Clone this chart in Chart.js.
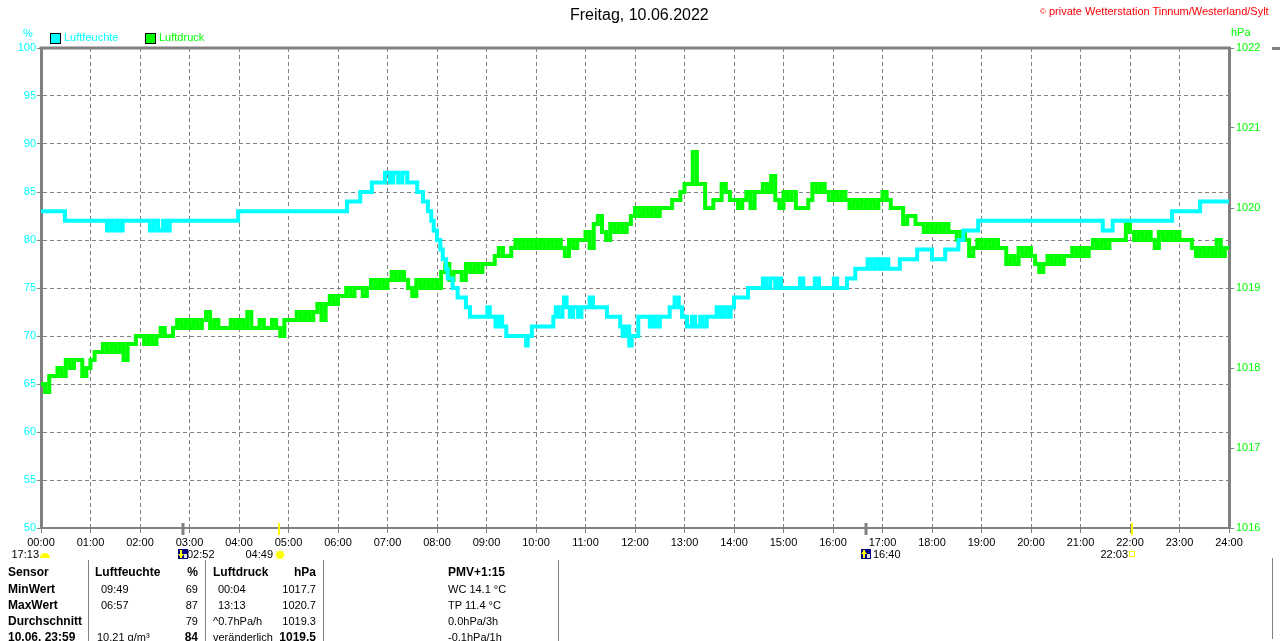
<!DOCTYPE html>
<html>
<head>
<meta charset="utf-8">
<script src="https://cdn.jsdelivr.net/npm/chart.js@4.4.1/dist/chart.umd.min.js"></script>
<style>
  body { margin: 0; width: 1280px; height: 641px; overflow: hidden; background: #fff; position: relative;
         font-family: "Liberation Sans", Arial, sans-serif; }
  #wrap { position: absolute; left: 0; top: 0; width: 1280px; height: 560px; }
  .t { position: absolute; white-space: nowrap; font-size: 11px; line-height: 13px; color: #000; }
  .b { font-weight: bold; font-size: 12px; }
  .vl { position: absolute; top: 560px; height: 81px; width: 1px; background: #808080; }
  .box { position: absolute; width: 9px; height: 9px; border: 1px solid #000; }
</style>
</head>
<body>
<div id="wrap"><canvas id="wetterChart"></canvas></div>

<!-- Kopf -->
<div class="t" style="left:570px; top:6px; font-size:16px; line-height:18px;">Freitag, 10.06.2022</div>
<div class="t" style="left:1040px; top:5px; color:#ff0000;"><span style="font-size:8px; vertical-align:top;">©</span> private Wetterstation Tinnum/Westerland/Sylt</div>
<div class="t" style="left:23px; top:27px; color:#00ffff;">%</div>
<div class="t" style="left:1231px; top:26px; color:#00ff00;">hPa</div>
<div class="box" style="left:50px; top:33px; background:#00ffff;"></div>
<div class="t" style="left:64px; top:31px; color:#00ffff;">Luftfeuchte</div>
<div class="box" style="left:145px; top:33px; background:#00ff00;"></div>
<div class="t" style="left:159px; top:31px; color:#00ff00;">Luftdruck</div>

<!-- Sonne / Mond -->
<div class="t" style="right:1241px; top:548px;">17:13</div>
<div class="t" style="left:187px; top:548px;">02:52</div>
<div class="t" style="right:1007px; top:548px;">04:49</div>
<div class="t" style="left:873px; top:548px;">16:40</div>
<div class="t" style="right:152px; top:548px;">22:03</div>

<!-- Tabelle -->
<div class="vl" style="left:88px;"></div>
<div class="vl" style="left:205px;"></div>
<div class="vl" style="left:323px;"></div>
<div class="vl" style="left:558px;"></div>
<div class="vl" style="left:1272px; top:558px;"></div>
<div style="position:absolute; left:1272px; top:47px; width:8px; height:3px; background:#808080;"></div>

<div class="t b" style="left:8px; top:566px;">Sensor</div>
<div class="t b" style="left:95px; top:566px;">Luftfeuchte</div>
<div class="t b" style="right:1082px; top:566px;">%</div>
<div class="t b" style="left:213px; top:566px;">Luftdruck</div>
<div class="t b" style="right:964px; top:566px;">hPa</div>
<div class="t b" style="left:448px; top:566px;">PMV+1:15</div>

<div class="t b" style="left:8px; top:583px;">MinWert</div>
<div class="t" style="left:101px; top:583px;">09:49</div>
<div class="t" style="right:1082px; top:583px;">69</div>
<div class="t" style="left:218px; top:583px;">00:04</div>
<div class="t" style="right:964px; top:583px;">1017.7</div>
<div class="t" style="left:448px; top:583px;">WC 14.1 °C</div>

<div class="t b" style="left:8px; top:599px;">MaxWert</div>
<div class="t" style="left:101px; top:599px;">06:57</div>
<div class="t" style="right:1082px; top:599px;">87</div>
<div class="t" style="left:218px; top:599px;">13:13</div>
<div class="t" style="right:964px; top:599px;">1020.7</div>
<div class="t" style="left:448px; top:599px;">TP 11.4 °C</div>

<div class="t b" style="left:8px; top:615px;">Durchschnitt</div>
<div class="t" style="right:1082px; top:615px;">79</div>
<div class="t" style="left:213px; top:615px;">^0.7hPa/h</div>
<div class="t" style="right:964px; top:615px;">1019.3</div>
<div class="t" style="left:448px; top:615px;">0.0hPa/3h</div>

<div class="t b" style="left:8px; top:631px;">10.06. 23:59</div>
<div class="t" style="left:97px; top:631px;">10.21 g/m³</div>
<div class="t b" style="right:1082px; top:631px;">84</div>
<div class="t" style="left:213px; top:631px;">veränderlich</div>
<div class="t b" style="right:964px; top:631px;">1019.5</div>
<div class="t" style="left:448px; top:631px;">-0.1hPa/1h</div>

<script>
// Stundenachse
const xTickLabels = ['00:00', '01:00', '02:00', '03:00', '04:00', '05:00', '06:00', '07:00', '08:00',
  '09:00', '10:00', '11:00', '12:00', '13:00', '14:00', '15:00', '16:00', '17:00', '18:00',
  '19:00', '20:00', '21:00', '22:00', '23:00', '24:00'];

// Luftfeuchte (%), Wert gilt bis zum nächsten Zeitpunkt
const humTimes = ['00:00', '00:29', '01:20', '01:24', '01:27', '01:32', '01:36', '01:39', '02:12', '02:17',
  '02:22', '02:28', '02:32', '02:36', '03:59', '06:11', '06:27', '06:41', '06:57', '07:03',
  '07:07', '07:13', '07:18', '07:24', '07:36', '07:43', '07:49', '07:53', '07:56', '08:00',
  '08:04', '08:07', '08:11', '08:13', '08:19', '08:25', '08:35', '08:40', '09:01', '09:04',
  '09:11', '09:15', '09:19', '09:24', '09:48', '09:50', '09:55', '10:21', '10:24', '10:27',
  '10:32', '10:34', '10:37', '10:41', '10:45', '10:51', '10:55', '11:05', '11:09', '11:26',
  '11:42', '11:45', '11:49', '11:53', '11:56', '12:04', '12:18', '12:22', '12:25', '12:30',
  '12:42', '12:48', '12:53', '12:57', '13:03', '13:09', '13:13', '13:19', '13:22', '13:27',
  '13:39', '13:43', '13:48', '13:53', '13:56', '14:00', '14:17', '14:35', '14:39', '14:44',
  '14:50', '14:53', '14:57', '15:20', '15:24', '15:38', '15:43', '16:01', '16:05', '16:17',
  '16:27', '16:42', '16:47', '16:52', '16:57', '17:02', '17:07', '17:21', '17:42', '18:00',
  '18:16', '18:32', '18:38', '18:56', '21:27', '21:39', '22:51', '23:25', '24:00'];
const humValues = [83, 82, 81, 82, 81, 82, 81, 82, 81, 82,
  81, 82, 81, 82, 83, 84, 85, 86, 87, 86,
  87, 86, 87, 86, 85, 84, 83, 82, 81, 80,
  79, 78, 77, 76, 75, 74, 73, 72, 73, 72,
  71, 72, 71, 70, 69, 70, 71, 72, 73, 72,
  73, 74, 73, 72, 73, 72, 73, 74, 73, 72,
  71, 70, 71, 69, 70, 72, 71, 72, 71, 72,
  73, 74, 73, 72, 71, 72, 71, 72, 71, 72,
  73, 72, 73, 72, 73, 74, 75, 76, 75, 76,
  75, 76, 75, 76, 75, 76, 75, 76, 75, 76,
  77, 78, 77, 78, 77, 78, 77, 78, 79, 78,
  79, 80, 81, 82, 81, 82, 83, 84, 84];

// Luftdruck (hPa), alle 5 Minuten ab 00:00 (eine Zeile = eine Stunde)
const pressureStepMin = 5;
const pressureValues = [
  1017.8, 1017.7, 1017.9, 1017.9, 1018.0, 1017.9, 1018.1, 1018.0, 1018.1, 1018.1, 1017.9, 1018.0,
  1018.1, 1018.2, 1018.2, 1018.3, 1018.2, 1018.3, 1018.2, 1018.3, 1018.1, 1018.3, 1018.3, 1018.4,
  1018.4, 1018.3, 1018.4, 1018.3, 1018.4, 1018.5, 1018.4, 1018.4, 1018.5, 1018.6, 1018.5, 1018.6,
  1018.5, 1018.6, 1018.5, 1018.6, 1018.7, 1018.5, 1018.6, 1018.5, 1018.5, 1018.5, 1018.6, 1018.5,
  1018.6, 1018.5, 1018.7, 1018.5, 1018.5, 1018.6, 1018.5, 1018.5, 1018.6, 1018.5, 1018.4, 1018.6,
  1018.6, 1018.6, 1018.7, 1018.6, 1018.7, 1018.6, 1018.7, 1018.8, 1018.6, 1018.8, 1018.9, 1018.8,
  1018.9, 1018.9, 1019.0, 1018.9, 1019.0, 1019.0, 1018.9, 1019.0, 1019.1, 1019.0, 1019.1, 1019.0,
  1019.1, 1019.2, 1019.1, 1019.2, 1019.1, 1019.0, 1018.9, 1019.1, 1019.0, 1019.1, 1019.0, 1019.1,
  1019.0, 1019.2, 1019.3, 1019.1, 1019.2, 1019.2, 1019.1, 1019.3, 1019.2, 1019.3, 1019.2, 1019.3,
  1019.3, 1019.3, 1019.4, 1019.5, 1019.4, 1019.4, 1019.5, 1019.6, 1019.5, 1019.6, 1019.5, 1019.6,
  1019.5, 1019.6, 1019.5, 1019.6, 1019.5, 1019.6, 1019.5, 1019.4, 1019.6, 1019.5, 1019.6, 1019.6,
  1019.7, 1019.5, 1019.8, 1019.9, 1019.7, 1019.6, 1019.8, 1019.7, 1019.8, 1019.7, 1019.8, 1019.9,
  1020.0, 1019.9, 1020.0, 1019.9, 1020.0, 1019.9, 1020.0, 1020.0, 1020.0, 1020.1, 1020.1, 1020.2,
  1020.3, 1020.3, 1020.7, 1020.3, 1020.3, 1020.0, 1020.0, 1020.1, 1020.1, 1020.3, 1020.2, 1020.1,
  1020.1, 1020.0, 1020.1, 1020.2, 1020.0, 1020.2, 1020.2, 1020.3, 1020.2, 1020.4, 1020.1, 1020.0,
  1020.2, 1020.1, 1020.2, 1020.0, 1020.0, 1020.0, 1020.1, 1020.3, 1020.2, 1020.3, 1020.2, 1020.1,
  1020.2, 1020.1, 1020.2, 1020.1, 1020.0, 1020.1, 1020.0, 1020.1, 1020.0, 1020.1, 1020.0, 1020.1,
  1020.2, 1020.1, 1020.0, 1020.0, 1020.0, 1019.8, 1019.9, 1019.9, 1019.8, 1019.8, 1019.7, 1019.8,
  1019.7, 1019.8, 1019.7, 1019.8, 1019.7, 1019.7, 1019.6, 1019.7, 1019.6, 1019.4, 1019.5, 1019.6,
  1019.5, 1019.6, 1019.5, 1019.6, 1019.5, 1019.5, 1019.3, 1019.4, 1019.3, 1019.5, 1019.4, 1019.5,
  1019.4, 1019.3, 1019.2, 1019.3, 1019.4, 1019.3, 1019.4, 1019.3, 1019.4, 1019.4, 1019.5, 1019.4,
  1019.5, 1019.4, 1019.5, 1019.6, 1019.5, 1019.6, 1019.5, 1019.6, 1019.6, 1019.6, 1019.6, 1019.8,
  1019.7, 1019.6, 1019.7, 1019.6, 1019.7, 1019.6, 1019.5, 1019.7, 1019.6, 1019.7, 1019.6, 1019.7,
  1019.6, 1019.6, 1019.6, 1019.5, 1019.4, 1019.5, 1019.4, 1019.5, 1019.4, 1019.6, 1019.4, 1019.5,
  1019.5];

// Mond unter/auf, Sonne auf/unter
const moonTimes = ['02:52', '16:40'];
const sunTimes = ['04:49', '22:03'];

const toHours = t => { const [h, m] = t.split(':').map(Number); return h + m / 60; };
const humData = humTimes.map((t, i) => ({ x: toHours(t), y: humValues[i] }));
const pressureData = pressureValues.map((v, i) => ({ x: i * pressureStepMin / 60, y: v }));

const tickFont = { family: '"Liberation Sans", Arial, sans-serif', size: 11 };

// Rahmen oben und Sonne/Mond-Marken unter der Zeitachse
const markerPlugin = {
  id: 'markerPlugin',
  afterDatasetsDraw(chart) {
    const { ctx, chartArea: a, scales: { x } } = chart;
    ctx.save();
    ctx.strokeStyle = '#808080';
    ctx.lineWidth = 3;
    ctx.beginPath();
    ctx.moveTo(a.left - 1.5, a.top);
    ctx.lineTo(a.right + 1.5, a.top);
    ctx.stroke();

    moonTimes.forEach((t, i) => {
      const px = Math.round(x.getPixelForValue(toHours(t)));
      ctx.strokeStyle = '#808080';
      ctx.lineWidth = 3;
      ctx.beginPath(); ctx.moveTo(px, a.bottom - 5); ctx.lineTo(px, a.bottom + 7); ctx.stroke();
      // Mond-Symbol
      ctx.fillStyle = '#000080';
      ctx.fillRect(px - 5, 549, 10, 10);
      ctx.fillStyle = '#e0e0e0';
      ctx.fillRect(px + 1, 554, 3, 4);
      ctx.strokeStyle = '#ffff00';
      ctx.fillStyle = '#ffff00';
      ctx.lineWidth = 2;
      ctx.beginPath(); ctx.moveTo(px - 2, 550); ctx.lineTo(px - 2, 558); ctx.stroke();
      ctx.beginPath();
      if (i === 0) { ctx.moveTo(px - 5, 554); ctx.lineTo(px + 1, 554); ctx.lineTo(px - 2, 558); }
      else { ctx.moveTo(px - 5, 554); ctx.lineTo(px + 1, 554); ctx.lineTo(px - 2, 550); }
      ctx.fill();
    });

    sunTimes.forEach((t, i) => {
      const px = Math.round(x.getPixelForValue(toHours(t)));
      ctx.strokeStyle = '#ffff00';
      ctx.lineWidth = 2;
      ctx.beginPath(); ctx.moveTo(px, a.bottom - 5); ctx.lineTo(px, a.bottom + 7); ctx.stroke();
      if (i === 0) {
        ctx.strokeStyle = '#ffff99';
        ctx.lineWidth = 1;
        for (let k = 0; k < 8; k++) {
          const ang = k * Math.PI / 4;
          ctx.beginPath();
          ctx.moveTo(px + 1 + Math.cos(ang) * 4, 555 + Math.sin(ang) * 4);
          ctx.lineTo(px + 1 + Math.cos(ang) * 6.5, 555 + Math.sin(ang) * 6.5);
          ctx.stroke();
        }
        ctx.fillStyle = '#ffff00';
        ctx.beginPath(); ctx.arc(px + 1, 555, 4, 0, Math.PI * 2); ctx.fill();
      } else {
        ctx.strokeStyle = '#ffff00';
        ctx.lineWidth = 1;
        ctx.strokeRect(px - 2.5, 551.5, 5, 5);
      }
    });

    // Sonnenuntergang Vortag
    const sx = a.left + 4;
    ctx.fillStyle = '#ffff00';
    ctx.beginPath(); ctx.arc(sx, 558, 5, Math.PI, 0); ctx.fill();
    ctx.restore();
  }
};

const ctx = document.getElementById('wetterChart').getContext('2d');
new Chart(ctx, {
  type: 'line',
  data: {
    datasets: [
      {
        label: 'Luftfeuchte',
        data: humData,
        yAxisID: 'y',
        borderColor: '#00ffff',
        backgroundColor: '#00ffff',
        borderWidth: 4,
        stepped: true,
        pointRadius: 0,
        fill: false
      },
      {
        label: 'Luftdruck',
        data: pressureData,
        yAxisID: 'y2',
        borderColor: '#00ff00',
        backgroundColor: '#00ff00',
        borderWidth: 4,
        stepped: true,
        pointRadius: 0,
        fill: false
      }
    ]
  },
  options: {
    responsive: true,
    maintainAspectRatio: false,
    animation: false,
    layout: { padding: { top: 48, left: 0, right: 0, bottom: 0 } },
    plugins: { legend: { display: false }, title: { display: false }, tooltip: { enabled: false } },
    scales: {
      x: {
        type: 'linear',
        min: 0,
        max: 24,
        afterBuildTicks: s => { s.ticks = xTickLabels.map((_, i) => ({ value: i })); },
        afterFit: s => { s.height = 32; },
        ticks: { autoSkip: false, maxRotation: 0, padding: 3, color: '#000', font: tickFont,
                 callback: v => xTickLabels[v] },
        grid: { color: '#808080', lineWidth: 1, tickLength: 5 },
        border: { color: '#808080', width: 2, dash: [4, 3] }
      },
      y: {
        position: 'left',
        min: 50,
        max: 100,
        afterFit: s => { s.width = 41; },
        ticks: { stepSize: 5, padding: 1, color: '#00ffff', font: tickFont, callback: v => String(v) },
        grid: { color: '#808080', lineWidth: 1, tickLength: 4 },
        border: { color: '#808080', width: 3, dash: [4, 3] }
      },
      y2: {
        position: 'right',
        min: 1016,
        max: 1022,
        afterFit: s => { s.width = 51; },
        ticks: { stepSize: 1, padding: 2, color: '#00ff00', font: tickFont, callback: v => String(v) },
        grid: { drawOnChartArea: false, color: '#808080', lineWidth: 1, tickLength: 5 },
        border: { color: '#808080', width: 3 }
      }
    }
  },
  plugins: [markerPlugin]
});
</script>
</body>
</html>
